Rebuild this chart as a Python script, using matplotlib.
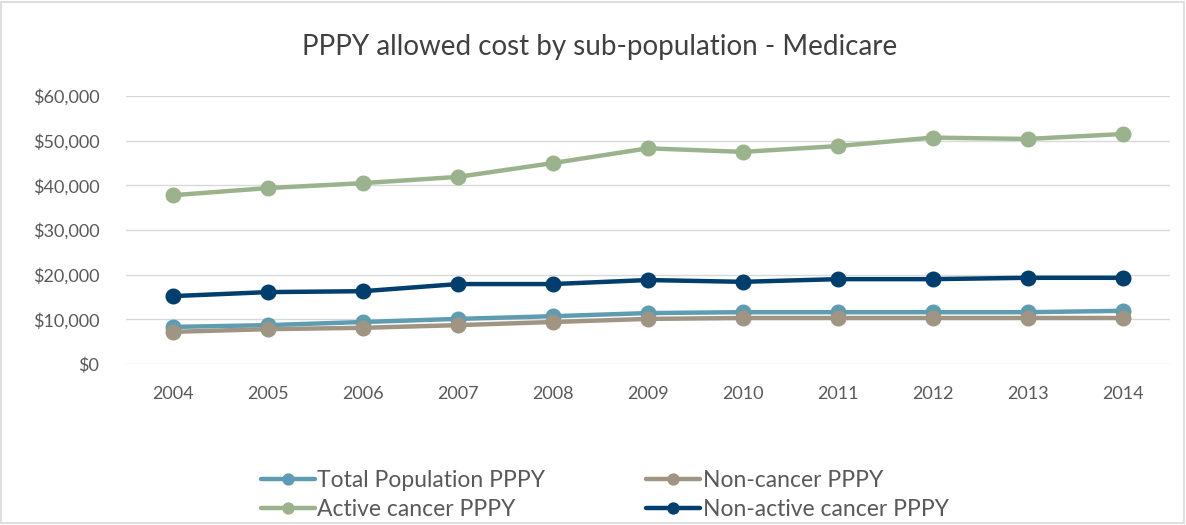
import matplotlib
matplotlib.use("Agg")
import matplotlib.pyplot as plt
from matplotlib.ticker import FuncFormatter
from matplotlib.patches import Rectangle

years = ["2004", "2005", "2006", "2007", "2008", "2009", "2010", "2011", "2012", "2013", "2014"]
total_pop = [8300, 8700, 9400, 10100, 10700, 11400, 11600, 11600, 11600, 11600, 11900]
non_cancer = [7200, 7800, 8100, 8700, 9400, 10100, 10300, 10300, 10300, 10300, 10300]
active_cancer = [37800, 39400, 40500, 41900, 45000, 48300, 47500, 48800, 50700, 50400, 51500]
non_active_cancer = [15200, 16100, 16300, 17900, 17900, 18800, 18400, 19000, 19000, 19300, 19300]

series = [
    ("Total Population PPPY", total_pop, "#5E9DB1"),
    ("Non-cancer PPPY", non_cancer, "#A09483"),
    ("Active cancer PPPY", active_cancer, "#9BB38C"),
    ("Non-active cancer PPPY", non_active_cancer, "#003E6D"),
]

plt.rcParams['font.family'] = ['Lato', 'DejaVu Sans']

fig = plt.figure(figsize=(11.86, 5.25), dpi=100)
ax = fig.add_axes([0.106, 0.3067, 0.8805, 0.5103])

x = list(range(len(years)))
handles = []
for name, vals, col in series:
    h, = ax.plot(x, vals, color=col, lw=3.2, marker='o', markersize=10.5,
                 label=name, solid_capstyle='round')
    handles.append(h)

ax.set_xlim(-0.5, len(years) - 0.5)
ax.set_ylim(0, 60000)
ax.set_yticks(range(0, 60001, 10000))
ax.yaxis.set_major_formatter(FuncFormatter(lambda v, p: "${:,.0f}".format(v)))
ax.set_xticks(x)
ax.set_xticklabels(years)
ax.grid(axis='y', color='#D9D9D9', lw=1)
ax.set_axisbelow(True)
for s in ax.spines.values():
    s.set_visible(False)
ax.tick_params(axis='both', length=0, labelsize=13, colors='#595959')
ax.tick_params(axis='x', pad=16)
ax.tick_params(axis='y', pad=19)

fig.text(0.506, 0.91, "PPPY allowed cost by sub-population - Medicare", ha='center',
         va='center', fontsize=20, color='#404040')

order = [handles[0], handles[2], handles[1], handles[3]]
leg = fig.legend(order, [h.get_label() for h in order], loc='center',
                 bbox_to_anchor=(0.510, 0.058), ncol=2, frameon=False, fontsize=16.5,
                 handlelength=2.36, handletextpad=0.1, columnspacing=4.4,
                 labelspacing=0.35, markerscale=0.75, labelcolor='#595959')

fig.patches.append(Rectangle((0.001, 0.004), 0.997, 0.993, transform=fig.transFigure,
                             fill=False, ec='#D9D9D9', lw=1.2))

fig.savefig("out.png", dpi=100)
